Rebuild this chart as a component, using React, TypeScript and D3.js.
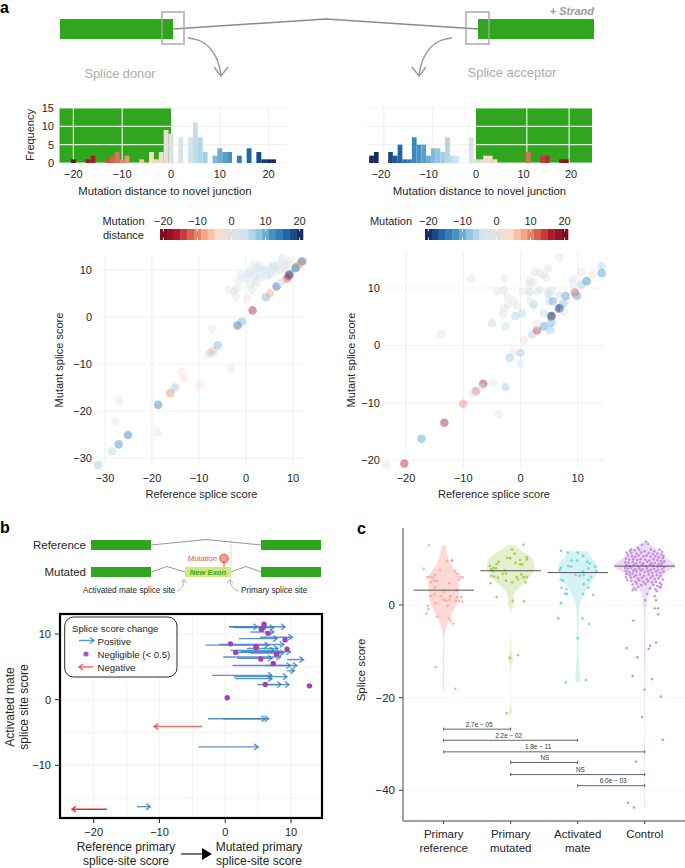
import React from "react";
import * as d3 from "d3";

const FONT = "'Liberation Sans', Arial, sans-serif";
const INK = "#262626";
const GRID = "#f1f1f1";
const GREEN = "#2fa61e";

// histogram counts [distance, count]
const donorCounts = [[-20,1],[-17,1],[-16,2],[-13,1],[-12,2],[-11,3],[-10,1],[-9,2],[-6,1],[-4,3],[-3,1],[-2,3],[-1,9],[0,8],[2,7],[4,7],[5,11],[6,7],[7,3],[9,2],[10,4],[11,3],[12,3],[14,2],[16,4],[18,3],[19,1],[20,1],[21,1]];
const acceptorCounts = [[-22,2],[-21,3],[-18,3],[-17,2],[-16,5],[-15,1],[-14,1],[-13,7],[-12,5],[-11,5],[-10,2],[-9,4],[-8,4],[-7,3],[-6,7],[-5,2],[-4,2],[-1,7],[0,1],[1,1],[2,2],[3,2],[4,1],[11,3],[14,2],[15,2],[18,1],[19,1]];
const histTicks = [-20, -10, 0, 10, 20];
const freqTicks = [0, 5, 10, 15];
const acceptorGrid = [-19.4, -9.1, 0, 10.7, 19.6];

// scatter rows [reference, mutant, distance]
const donorScores = [
  [-31.5,-31.5,8],[-28.5,-28.6,6],[-27.1,-27.1,14],[-25.1,-25.1,15],[-27,-17.8,3],[-27.8,-22.3,-3],[-18.9,-24.5,3],[-18.7,-18.7,15],
  [-16.1,-16.2,-10],[-15.1,-15,8],[-13.8,-11.7,-4],[-13.1,-13.1,-4],[-10,-14.4,-4],[-3.2,-11,3],[-8.1,-8.1,-4],[-7.5,-7.6,7],[-7,-7.2,-7],
  [-6,-6,10],[-7.2,-2.5,-3],[-1.8,-1.8,17],[-0.9,-1,10],[1.4,1.4,-18],[4.2,4.2,10],[5.1,5,-8],[6.5,6.5,17],[0.2,3.9,-3],[-2.2,4.3,-3],
  [-3.7,5.8,2],[-1.9,6.1,1],[-2.6,5.5,2],[1.3,5.8,3],[-1.5,7.7,3],[-1.1,9.1,4],[0.4,9.1,1],[0.1,8.2,3],[2.1,7.7,-1],[2.2,7.2,-4],
  [1.8,11.2,3],[2.5,10.4,3],[3.6,10.2,4],[4.4,8.6,2],[5,10.2,4],[5.7,10.9,5],[7.7,12.6,4],[7.2,10,-2],[6.8,11.4,4],[8.6,11.1,-1],
  [9.1,11.9,-2],[8.6,10,3],[12.2,11.9,-3],[7.9,7.7,2],[8.7,8.2,-14],[9.1,8.8,-16],[9.3,9.1,18],[10.5,10.4,12],[10.6,10.5,12],[11.9,11.8,17],
  [7.5,7.5,1],[11.2,11.1,-10],[1,7,3],[1.6,8.8,2],[2.8,9,4],[3.2,8.3,3],[4.8,9.2,1],[3,11,3],[6,10.5,4],[0.9,9.8,3],[5.4,8.9,3],[6.4,9.8,3],[8,11,1],[4,9.9,4],[2,9.6,3]
];
const acceptorScores = [
  [-23.4,-20.8,-3],[-20.3,-20.6,16],[-17.3,-16.3,-12],[-13.3,-13.5,18],[-10,-10.2,10],[-7.8,-8,13],[-6.5,-6.7,19],[-8.2,-8.4,-2],[-6.8,-7.4,-3],
  [-4.8,-6.6,-2],[-2.6,-7.3,-8],[-3.8,-12,0],[-1.2,-1.3,4],[-1.9,-2.2,-8],[0,-1.3,-8],[0,-3.2,-4],[0.6,0.9,3],[-13.9,2,0],[-8.6,11.7,0],
  [-2.8,11.7,0],[-4,9.4,-1],[-2.9,9.7,0],[-2.3,8.5,1],[-5,3.9,3],[-5,3.9,-1],[-2.6,3.3,-5],[-3.1,5.4,-3],[-2.9,6.4,1],[-2.2,7.1,0],[-1.2,7.8,0],
  [-0.6,7,-2],[-0.9,5.1,-7],[0.3,5.6,-6],[2,1.9,-7],[2.9,2.6,15],[4.1,3.3,-12],[5,2.7,-7],[5.4,2.7,-5],[2.9,3.7,-2],[5.4,5.1,20],[5.4,5.1,-16],[5.4,4,-10],
  [4.1,5.6,-6],[2.3,7.1,-8],[6.7,6.4,-15],[6.9,6.5,-20],[7.6,5.9,-4],[5.1,7.7,-7],[5.7,7.7,-10],[6.7,8.7,-5],[7.5,7.3,-9],[8,7.7,-1],[7.9,8.6,-12],
  [9.8,8.6,-10],[9.5,9.2,14],[10,8.7,-7],[4.9,9.1,-7],[1.6,9.3,-6],[1.6,7.8,-3],[3,9.4,-3],[3.5,9.7,-3],[0.4,9.4,1],[1.6,11.3,0],[1.5,10.6,0],
  [2.2,11,0],[2.5,12.8,0],[3.4,12.5,0],[4,12.3,0],[4.5,11.8,0],[4.8,13.4,0],[6.8,15.3,0],[9.1,11.6,-3],[9.2,10.6,-4],[10.6,12.8,2],[10.7,10.6,-8],
  [11.4,11.2,-5],[11.6,11.2,-12],[12.6,12.3,3],[14.2,13.8,-7],[14.2,12.6,-12],[5.4,9.6,-1]
];
const donorXTicks = [-30, -20, -10, 0, 10];
const donorYTicks = [-30, -20, -10, 0, 10];
const acceptorXTicks = [-20, -10, 0, 10];
const acceptorYTicks = [-20, -10, 0, 10];

// panel b rows [reference score, mutated score, mate score]
const positiveChanges = [
  [0.6,4.9,11.1],[0.6,9.1,11.1],[1.3,7.4,11],[3.8,7.4,10.3],[2.1,7.9,9.3],[5.3,10.2,9.5],[-3,6.6,8.3],[-0.9,8.9,8.4],[3.3,8,7.8],[0.8,7.4,7.5],
  [1.8,8.4,7.2],[2.3,9.9,7.3],[3.8,8.9,7.1],[-0.3,8.4,6.5],[1.8,7.1,6.3],[9.4,11.9,6.1],[1.1,9.9,5.2],[6.1,10.9,5.2],[9.4,10.5,4.4],[-2,7.1,3.7],
  [1.3,9.4,3.5],[1.5,7.1,3.2],[4.9,8.5,2.3],[6.6,9.7,2.3],[-2.6,6.6,-2.9],[-0.3,6.1,-2.9],[-4.1,5,-7.2],[-13.4,-11.4,-16.3]
];
const negativeChanges = [[-3.5,-10.8,-4.1,0.7],[-18,-23.3,-16.7,1]];
const negligibleChanges = [[5.9,11.5],[5.8,11],[5.5,10.7],[6.5,10.1],[9.1,9.1],[0.8,8.5],[4.7,8.1],[4.7,7.9],[9.4,7.7],[1.6,7.2],[7.8,6.9],[5.4,6.2],[7.3,5.5],[6.1,2.3],[12.8,2.1],[0.3,0.3]];
const changeXTicks = [-20, -10, 0, 10];
const changeYTicks = [-10, 0, 10];
const changeGridX = [-20, -15, -10, -5, 0, 5, 10];
const changeGridY = [-15, -10, -5, 0, 5, 10];

// panel c
const categories = [["Primary", "reference"], ["Primary", "mutated"], ["Activated", "mate"], ["Control"]];
const violinFills = ["#ffd9d6", "#e3efcd", "#d6f2f4", "#ecdcf5"];
const dotFills = ["#ff9d95", "#9ec63f", "#55d2da", "#c27cda"];
const medians = [3.2, 7.4, 7, 8.4];
const violinPrimaryRef = [[12.9,.07],[11.1,.11],[9,.22],[6.5,.46],[3.3,.5],[1,.47],[-1.1,.33],[-3.2,.16],[-6,.04],[-7.5,.025],[-18.2,.025]];
const violinPrimaryMut = [[12.9,.13],[11.8,.33],[10.4,.64],[9,.77],[7.5,.77],[6.5,.66],[4.7,.44],[3.2,.2],[1.8,.09],[0,.09],[-1.1,.02],[-7.5,.012],[-9.7,.03],[-11.5,.08],[-13.2,.02],[-17.6,.008],[-22,.02],[-23.4,.07]];
const violinMate = [[11.6,.33],[10.4,.42],[9,.6],[7.2,.63],[5.7,.53],[4,.35],[1.8,.17],[0,.06],[-3.2,.03],[-7.2,.03],[-10.4,.03],[-13.3,.06],[-16.7,.08]];
const violinControl = [[13.6,.05],[12.6,.28],[10.4,.66],[8.4,1],[6.8,.66],[4.7,.33],[2.5,.11],[0,.05],[-3.2,.02],[-10,.03],[-15,.015],[-43.7,.012]];

// dots [jitter, score]
const dotsPrimaryRef = [[-.22,12.9],[.05,9.5],[.12,9.6],[.13,9.6],[-.3,7.8],[-.06,7.5],[.17,7.3],[.21,6.7],[-.24,6],[-.2,6.1],[-.16,5.9],[-.13,6.5],[.28,6],[.24,6.1],[-.19,4.9],[-.14,5.2],[-.1,5.2],[.08,4.7],[.23,5.5],[-.13,3.8],[.19,3.2],[.01,2.7],[-.14,2.4],[-.19,1.9],[-.04,1.9],[.1,1.9],[.2,1.7],[.26,1.7],[.23,.9],[.28,.7],[.18,.9],[0,1.1],[.09,1.1],[.04,.9],[-.12,.4],[.06,-.2],[-.24,-.2],[-.23,-.9],[-.26,-1.9],[-.1,-2.5],[.08,-2.9],[.1,-3.4],[.14,-4],[-.12,-13.4],[.17,-18.1]];
const dotsPrimaryMut = [[.19,13],[.02,12],[.06,11.1],[-.05,10.2],[-.01,10.1],[.24,10.3],[.24,9.8],[.14,9.7],[-.18,9.3],[.07,9.1],[.17,8.8],[-.21,8.8],[-.31,8.4],[-.26,8],[-.22,7.9],[-.29,7.7],[-.26,7.3],[-.09,7.5],[.14,8.8],[-.07,6.8],[-.12,6.7],[.16,6.6],[-.29,6.3],[-.25,6.1],[-.19,5.9],[.09,6],[.19,6],[.24,6],[-.07,5.2],[.02,4.9],[.11,5.5],[-.3,4.7],[.22,4.9],[-.21,1.7],[.03,.9],[.2,.8],[-.01,-11.4],[.11,-10.8],[-.06,-23.4]];
const dotsMate = [[-.25,11.7],[-.15,11.3],[0,11.3],[.08,10.6],[-.09,9.6],[-.01,9.6],[.14,9.3],[.18,9],[-.14,8.4],[-.1,8.3],[-.25,8],[-.27,7.5],[.08,7.2],[.26,8.3],[.28,7.3],[.16,7.9],[-.03,6.5],[.03,6.3],[.09,6.5],[.2,6.1],[-.25,5.5],[-.22,5.2],[.16,5.4],[.09,4.5],[.16,3.7],[-.24,3.7],[-.17,3.4],[-.19,2.4],[-.16,2.4],[.08,2.4],[.23,2.2],[-.25,.4],[-.29,-2.9],[.07,-2.9],[.17,-4.1],[0,-7.2],[-.18,-16.7],[.12,-16.2]];
const dotsControl = [
  [.02,13.7],[-.04,13],[.05,13.2],[-.1,12.3],[-.2,12],[-.22,11.7],[-.15,11.8],[-.08,11.9],[.09,12],[.14,11.6],[.22,11.9],[.26,11.5],[-.27,11.3],[-.2,11.2],[-.12,11.1],[-.05,11.3],[0,11.6],[.06,11.2],[.12,11],[.19,11.1],[.25,10.9],[.28,10.6],
  [-.25,10.7],[-.19,10.5],[-.14,10.4],[-.09,10.7],[-.02,10.5],[.03,10.7],[.09,10.4],[.16,10.5],[.21,10.3],[.27,10.1],[-.28,10],[-.23,9.8],[-.17,9.9],[-.11,9.7],[-.06,9.9],[.01,9.8],[.07,9.6],[.13,9.9],[.19,9.7],[.24,9.5],[.29,9.4],
  [-.29,9.2],[-.24,9.1],[-.18,9.3],[-.13,9],[-.07,9.2],[-.02,9],[.04,9.3],[.1,9],[.15,9.1],[.21,8.9],[.26,9],[-.27,8.6],[-.22,8.4],[-.16,8.7],[-.1,8.4],[-.04,8.6],[.02,8.4],[.08,8.7],[.13,8.5],[.19,8.3],[.24,8.5],[.29,8.2],
  [-.29,8],[-.25,7.8],[-.2,8],[-.14,7.7],[-.08,7.9],[-.03,7.7],[.03,7.9],[.09,7.6],[.14,7.8],[.2,7.6],[.26,7.8],[-.28,7.3],[-.23,7.1],[-.17,7.4],[-.12,7.2],[-.06,7.4],[0,7.1],[.05,7.3],[.11,7],[.17,7.2],[.23,7],[.28,7.2],
  [-.27,6.7],[-.22,6.5],[-.18,6.8],[-.13,6.4],[-.07,6.6],[-.01,6.3],[.06,6.6],[.12,6.3],[.18,6.5],[.24,6.3],[-.28,6],[-.21,5.9],[-.16,6.1],[-.1,5.7],[-.04,5.9],[.03,5.6],[.09,5.9],[.15,5.6],[.21,5.8],[.27,5.5],
  [-.26,5.4],[-.2,5.2],[-.14,5],[-.08,5.3],[-.02,5],[.05,5.2],[.11,4.9],[.17,5],[.23,4.8],[-.18,4.4],[-.12,4.6],[-.05,4.3],[.01,4.6],[.13,4.3],[.19,4.1],[.25,4.4],[.22,3.9],[-.16,3.7],[-.1,3.9],[-.13,3.3],[-.18,3.2],[.08,3.6],[.16,3.4],
  [.18,3],[.24,3.8],[.01,1],[.04,2.4],[.15,1.9],[.17,1],[.15,-.7],[.2,-.7],[.2,-2],[-.17,-3.4],[-.27,-9.3],[-.11,-11.3],[.08,-8.8],[.06,-9.5],[.17,-8.1],[-.18,-15.3],[.11,-16],[0,-18.3],[.24,-19.8],[-.04,-24.2],[.27,-29.1],[-.13,-33.8],[-.25,-42.7],[-.16,-43.7]
];
// comparison brackets [from, to, score, label, label position]
const comparisons = [
  [0, 1, -26.8, "2.7e \u2212 05", .53],
  [0, 2, -29.2, "2.2e \u2212 02", .97],
  [0, 3, -31.7, "1.8e \u2212 11", 1.41],
  [1, 2, -34, "NS", 1.51],
  [1, 3, -36.6, "NS", 2.04],
  [2, 3, -39, "6.0e \u2212 03", 2.53],
];
const scoreTicks = [0, -20, -40];

const minus = (v) => String(v).replace("-", "\u2212");

const distColor = d3
  .scaleLinear()
  .domain(d3.range(-20, 21, 4))
  .range(["#7a0c1e","#b2182b","#d6604d","#f4a582","#fddbc7","#e0e0e0","#d1e5f0","#92c5de","#4393c3","#2166ac","#152e66"])
  .clamp(true);

const Txt = ({ x, y, size = 11, anchor = "middle", fill = INK, weight, italic, rotate, children }) => (
  <text
    x={x}
    y={y}
    fontSize={size}
    textAnchor={anchor}
    dominantBaseline="central"
    fill={fill}
    fontWeight={weight}
    fontStyle={italic ? "italic" : undefined}
    transform={rotate ? `rotate(${rotate} ${x} ${y})` : undefined}
  >
    {children}
  </text>
);

const Hist = ({ counts, x, xMin, xMax, grid, greenFrom, greenTo, sign, showFreq, titleX }) => {
  const y = d3.scaleLinear().domain([0, 15]).range([163, 108]);
  return (
    <g>
      {freqTicks.map((t) => <line key={t} x1={xMin} x2={xMax} y1={y(t)} y2={y(t)} stroke={GRID} strokeWidth={1.2} />)}
      {grid.map((t) => <line key={t} x1={x(t)} x2={x(t)} y1={107} y2={164} stroke={GRID} strokeWidth={1.2} />)}
      <rect x={greenFrom} y={108} width={greenTo - greenFrom} height={55} fill={GREEN} />
      {freqTicks.map((t) => <line key={t} x1={greenFrom} x2={greenTo} y1={y(t)} y2={y(t)} stroke="#fff" strokeOpacity={0.85} strokeWidth={1.2} />)}
      {grid.filter((t) => x(t) > greenFrom + 2 && x(t) < greenTo - 2).map((t) => (
        <line key={t} x1={x(t)} x2={x(t)} y1={108} y2={163} stroke="#fff" strokeOpacity={0.85} strokeWidth={1.2} />
      ))}
      {counts.map(([d, c]) => (
        <rect key={d} x={x(d - 0.5)} width={x(d + 0.5) - x(d - 0.5)} y={y(c)} height={y(0) - y(c)} fill={distColor(sign * d)} />
      ))}
      {histTicks.map((t) => <Txt key={t} x={x(t)} y={174}>{minus(t)}</Txt>)}
      <Txt x={titleX} y={191} size={11.3}>Mutation distance to novel junction</Txt>
      {showFreq && freqTicks.map((t) => <Txt key={t} x={54} y={y(t)} anchor="end">{t}</Txt>)}
      {showFreq && <Txt x={30} y={135} rotate={-90}>Frequency</Txt>}
    </g>
  );
};

const ColorBar = ({ x0, sign }) => {
  const x = d3.scaleLinear().domain([-21, 21]).range([x0, x0 + 143]);
  const blocks = d3.range(-20, 21, 2);
  return (
    <g>
      {blocks.map((b) => (
        <rect key={b} x={x(b - 1)} y={229} width={x(b + 1) - x(b - 1) + 0.3} height={11} fill={distColor(sign * b)} />
      ))}
      {histTicks.map((t) => (
        <g key={t} stroke="#fff" strokeWidth={0.8}>
          <line x1={x(t)} x2={x(t)} y1={229} y2={231.5} />
          <line x1={x(t)} x2={x(t)} y1={237.5} y2={240} />
        </g>
      ))}
      {histTicks.map((t) => <Txt key={t} x={x(t)} y={220.5}>{minus(t)}</Txt>)}
    </g>
  );
};

const Scatter = ({ rows, x, y, xTicks, yTicks, left, right, top, bottom, sign, labelRight, titleX, titleYX }) => (
  <g>
    {xTicks.map((t) => <line key={t} x1={x(t)} x2={x(t)} y1={top} y2={bottom} stroke={GRID} strokeWidth={1.2} />)}
    {yTicks.map((t) => <line key={t} x1={left} x2={right} y1={y(t)} y2={y(t)} stroke={GRID} strokeWidth={1.2} />)}
    {rows.map(([a, b, d], i) => (
      <circle key={i} cx={x(a)} cy={y(b)} r={4.3} fill={distColor(sign * d)} fillOpacity={0.42} />
    ))}
    {xTicks.map((t) => <Txt key={t} x={x(t)} y={478}>{minus(t)}</Txt>)}
    {yTicks.map((t) => <Txt key={t} x={labelRight} y={y(t)} anchor="end">{minus(t)}</Txt>)}
    <Txt x={titleX} y={494}>Reference splice score</Txt>
    <Txt x={titleYX} y={360} rotate={-90}>Mutant splice score</Txt>
  </g>
);

const Arrow = ({ x1, x2, y, color, opacity = 0.85, width = 1.4, head = 4 }) => {
  const dir = x2 > x1 ? 1 : -1;
  return (
    <g stroke={color} strokeOpacity={opacity} strokeWidth={width} fill="none">
      <line x1={x1} x2={x2} y1={y} y2={y} />
      <path d={`M${x2 - dir * head},${y - head * 0.75}L${x2},${y}L${x2 - dir * head},${y + head * 0.75}`} />
    </g>
  );
};

const TopDiagram = () => (
  <g>
    <rect x={60} y={19} width={113} height={20} fill={GREEN} />
    <rect x={478} y={19} width={116} height={20} fill={GREEN} />
    <path d="M173,29L326,19L478,29" fill="none" stroke="#8a8a8a" strokeWidth={1.4} />
    <rect x={162} y={12} width={22} height={32} fill="none" stroke="#a5a5a5" strokeWidth={1.4} />
    <rect x={466} y={12} width={23} height={32} fill="none" stroke="#a5a5a5" strokeWidth={1.4} />
    <path d="M188,38C206,39 218,52 221,75M214,67L221,76L228,67" fill="none" stroke="#9a9a9a" strokeWidth={1.4} />
    <path d="M452,38C434,39 422,52 419,75M412,67L419,76L426,67" fill="none" stroke="#9a9a9a" strokeWidth={1.4} />
    <Txt x={594} y={11} anchor="end" size={11} fill="#9a9a9a" weight="bold" italic>+ Strand</Txt>
    <Txt x={120} y={73} size={12.8} fill="#ababab">Splice donor</Txt>
    <Txt x={512} y={72} size={13} fill="#ababab">Splice acceptor</Txt>
  </g>
);

const GeneDiagram = () => (
  <g>
    <Txt x={86} y={545} anchor="end" size={11.5}>Reference</Txt>
    <Txt x={86} y={572} anchor="end" size={11.5}>Mutated</Txt>
    <rect x={91} y={540} width={60} height={10} fill={GREEN} />
    <rect x={261} y={540} width={60} height={10} fill={GREEN} />
    <rect x={91} y={567} width={60} height={10} fill={GREEN} />
    <rect x={261} y={567} width={60} height={10} fill={GREEN} />
    <rect x={185} y={567} width={46} height={10} fill="#cfe97f" />
    <path d="M151,545L206,539.5L261,545M151,572L167,566.5L185,572M231,572L246,566.5L261,572" fill="none" stroke="#8a8a8a" strokeWidth={0.9} />
    <line x1={231} x2={231} y1={538} y2={566} stroke="#aaa" strokeWidth={0.7} strokeDasharray="1 1" />
    <line x1={224} x2={224} y1={562} y2={567} stroke="#ef4a45" strokeWidth={1} />
    <circle cx={224} cy={558.5} r={4.3} fill="#f79a96" stroke="#ef4a45" strokeWidth={1} />
    <Txt x={217} y={558} anchor="end" size={7.6} fill="#ef4a45" italic>Mutation</Txt>
    <Txt x={208} y={572} size={7.6} fill={GREEN} weight="bold" italic>New Exon</Txt>
    <Txt x={83} y={590.5} anchor="start" size={8.2}>Activated mate splice site</Txt>
    <Txt x={241} y={590.5} anchor="start" size={8.2}>Primary splice site</Txt>
    <path d="M177,591C181,590 184,586 184,580M181,583L184,579.5L187,583" fill="none" stroke="#999" strokeWidth={0.8} />
    <path d="M239,591C234,590 230,586 230,580M227,583L230,579.5L233,583" fill="none" stroke="#999" strokeWidth={0.8} />
  </g>
);

const ChangePanel = () => {
  const x = d3.scaleLinear().domain([-20, 10]).range([93.7, 291]);
  const y = d3.scaleLinear().domain([-10, 10]).range([765.3, 634]);
  return (
    <g>
      {changeGridX.map((t) => <line key={t} x1={x(t)} x2={x(t)} y1={614} y2={818} stroke={GRID} strokeWidth={0.9} />)}
      {changeGridY.map((t) => <line key={t} x1={60} x2={322} y1={y(t)} y2={y(t)} stroke={GRID} strokeWidth={0.9} />)}
      {positiveChanges.map(([a, b, m], i) => <Arrow key={i} x1={x(a)} x2={x(b)} y={y(m)} color="#3c82c4" />)}
      {negativeChanges.map(([a, b, m, o], i) => <Arrow key={i} x1={x(a)} x2={x(b)} y={y(m)} color="#e8302a" opacity={o} />)}
      {negligibleChanges.map(([a, m], i) => <circle key={i} cx={x(a)} cy={y(m)} r={2.7} fill="#a63cc0" />)}
      <rect x={60} y={614} width={262} height={204} fill="none" stroke="#000" strokeWidth={2.2} />
      <rect x={64.7} y={617} width={112.3} height={60} rx={9} fill="#fff" stroke="#111" strokeWidth={0.9} />
      <Txt x={72} y={628} anchor="start" size={9.6}>Splice score change</Txt>
      <Arrow x1={79} x2={94} y={640.5} color="#3c82c4" />
      <Txt x={97.5} y={641} anchor="start" size={9.6}>Positive</Txt>
      <circle cx={86} cy={654} r={2.6} fill="#b24fca" />
      <Txt x={97.5} y={654.5} anchor="start" size={9.6}>{"Negligible (< 0.5)"}</Txt>
      <Arrow x1={93} x2={79} y={667} color="#e8302a" opacity={0.75} />
      <Txt x={97.5} y={667.5} anchor="start" size={9.6}>Negative</Txt>
      {changeXTicks.map((t) => (
        <g key={t}>
          <line x1={x(t)} x2={x(t)} y1={819} y2={823} stroke={INK} />
          <Txt x={x(t)} y={832}>{minus(t)}</Txt>
        </g>
      ))}
      {changeYTicks.map((t) => (
        <g key={t}>
          <line x1={55} x2={59} y1={y(t)} y2={y(t)} stroke={INK} />
          <Txt x={51} y={y(t)} anchor="end">{minus(t)}</Txt>
        </g>
      ))}
      <Txt x={10} y={707} rotate={-90} size={12}>Activated mate</Txt>
      <Txt x={24} y={707} rotate={-90} size={12}>splice site score</Txt>
      <Txt x={126} y={846.5} size={12}>Reference primary</Txt>
      <Txt x={126} y={860.5} size={12}>splice-site score</Txt>
      <Txt x={259} y={846.5} size={12}>Mutated primary</Txt>
      <Txt x={259} y={860.5} size={12}>splice-site score</Txt>
      <line x1={181} x2={203} y1={854} y2={854} stroke="#555" strokeWidth={1.6} />
      <path d="M202,848L212,854L202,860Z" fill="#000" />
    </g>
  );
};

const ViolinPanel = () => {
  const x = d3.scaleLinear().domain([0, 3]).range([443.7, 644.7]);
  const y = d3.scaleLinear().domain([0, -40]).range([605, 790.3]);
  const w = d3.scaleLinear().domain([0, 1]).range([0, 30.5]);
  const profiles = [violinPrimaryRef, violinPrimaryMut, violinMate, violinControl];
  const dots = [dotsPrimaryRef, dotsPrimaryMut, dotsMate, dotsControl];
  return (
    <g>
      {scoreTicks.map((t) => <line key={t} x1={403} x2={685} y1={y(t)} y2={y(t)} stroke={GRID} strokeOpacity={0.7} />)}
      {profiles.map((p, i) => {
        const area = d3
          .area()
          .y((d) => y(d[0]))
          .x0((d) => x(i) - w(d[1]))
          .x1((d) => x(i) + w(d[1]))
          .curve(d3.curveCatmullRom);
        return <path key={i} d={area(p)} fill={violinFills[i]} />;
      })}
      {dots.map((set, i) =>
        set.map(([j, s], k) => (
          <circle key={`${i}-${k}`} cx={x(i + j)} cy={y(s)} r={1.35} fill={dotFills[i]} fillOpacity={0.8} />
        ))
      )}
      {medians.map((m, i) => (
        <line key={i} x1={x(i) - 30.3} x2={x(i) + 30.3} y1={y(m)} y2={y(m)} stroke="#444" strokeWidth={0.9} />
      ))}
      {comparisons.map(([a, b, s, label, pos]) => (
        <g key={`${a}-${b}`} stroke="#555" strokeWidth={0.9}>
          <line x1={x(a)} x2={x(b)} y1={y(s)} y2={y(s)} />
          <line x1={x(a)} x2={x(a)} y1={y(s) - 1.6} y2={y(s) + 1.6} />
          <line x1={x(b)} x2={x(b)} y1={y(s) - 1.6} y2={y(s) + 1.6} />
          <text x={x(pos)} y={y(s) - 5} fontSize={6.4} textAnchor="middle" dominantBaseline="central" fill="#333" stroke="none">{label}</text>
        </g>
      ))}
      <path d="M403,528V821H685" fill="none" stroke="#444" strokeWidth={1} />
      {scoreTicks.map((t) => (
        <g key={t}>
          <line x1={399} x2={403} y1={y(t)} y2={y(t)} stroke="#444" />
          <Txt x={395} y={y(t)} anchor="end" size={11.5}>{minus(t)}</Txt>
        </g>
      ))}
      {categories.map((lines, i) => (
        <g key={i}>
          <line x1={x(i)} x2={x(i)} y1={821} y2={824} stroke="#444" />
          {lines.map((l, k) => <Txt key={l} x={x(i)} y={834 + k * 13.5} size={11.5}>{l}</Txt>)}
        </g>
      ))}
      <Txt x={361} y={670} rotate={-90} size={11.5}>Splice score</Txt>
    </g>
  );
};

export default function App() {
  const donorX = d3.scaleLinear().domain([-20, 20]).range([73.4, 268.6]);
  const acceptorX = d3.scaleLinear().domain([-20, 20]).range([381, 571]);
  const donorSx = d3.scaleLinear().domain([-30, 10]).range([105, 293]);
  const donorSy = d3.scaleLinear().domain([-30, 10]).range([458, 270]);
  const acceptorSx = d3.scaleLinear().domain([-20, 10]).range([406, 577.7]);
  const acceptorSy = d3.scaleLinear().domain([-20, 10]).range([460, 288]);

  return (
    <svg
      width={685}
      height={868}
      viewBox="0 0 685 868"
      style={{ position: "absolute", left: 0, top: 0, fontFamily: FONT, background: "#fff" }}
    >
      <Txt x={0} y={7} anchor="start" size={16} weight="bold" fill="#000">a</Txt>
      <Txt x={0} y={527} anchor="start" size={16} weight="bold" fill="#000">b</Txt>
      <Txt x={357} y={528} anchor="start" size={16} weight="bold" fill="#000">c</Txt>
      <TopDiagram />
      <Hist counts={donorCounts} x={donorX} xMin={59.5} xMax={287} grid={histTicks} greenFrom={59.5} greenTo={171} sign={1} showFreq titleX={165} />
      <Hist counts={acceptorCounts} x={acceptorX} xMin={366} xMax={592} grid={acceptorGrid} greenFrom={476} greenTo={592} sign={-1} titleX={479.5} />
      <Txt x={123.5} y={221}>Mutation</Txt>
      <Txt x={123.5} y={235}>distance</Txt>
      <ColorBar x0={160} sign={1} />
      <Txt x={391} y={221}>Mutation</Txt>
      <ColorBar x0={425} sign={-1} />
      <Scatter rows={donorScores} x={donorSx} y={donorSy} xTicks={donorXTicks} yTicks={donorYTicks} left={98} right={306} top={254} bottom={465} sign={1} labelRight={92} titleX={201.5} titleYX={59} />
      <Scatter rows={acceptorScores} x={acceptorSx} y={acceptorSy} xTicks={acceptorXTicks} yTicks={acceptorYTicks} left={383} right={604} top={253} bottom={468} sign={-1} labelRight={380} titleX={494} titleYX={351} />
      <GeneDiagram />
      <ChangePanel />
      <ViolinPanel />
    </svg>
  );
}
